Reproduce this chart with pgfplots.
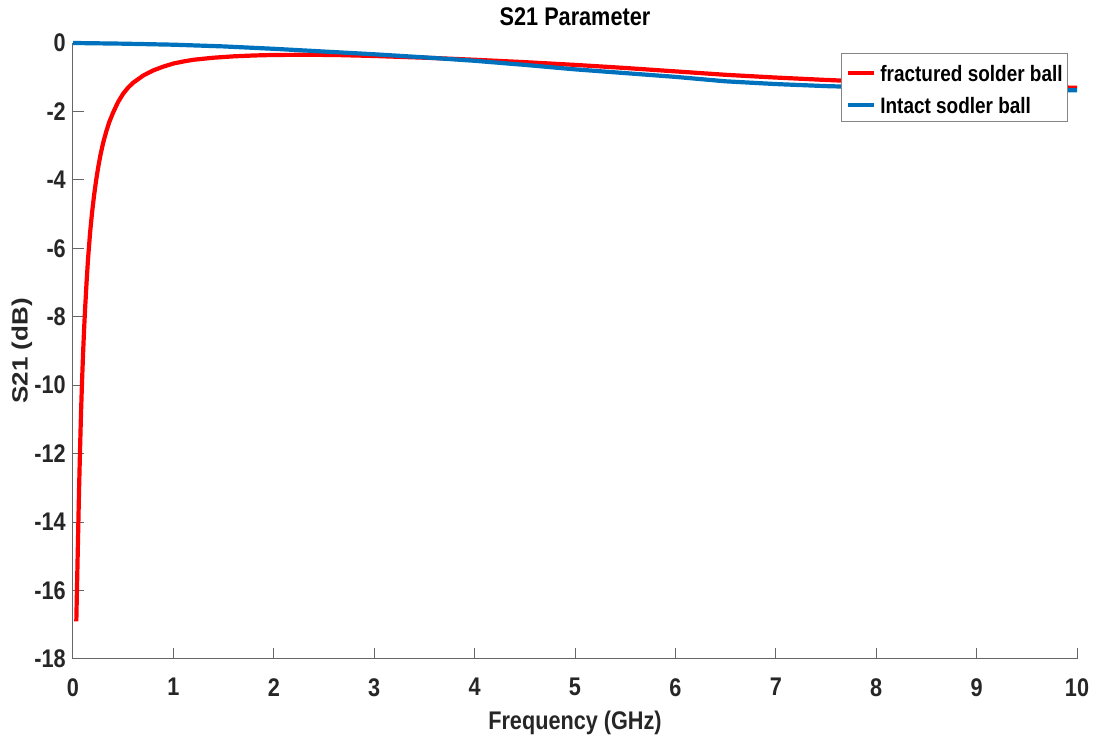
\documentclass[border=0pt]{standalone}
\usepackage{pgfplots}
\pgfplotsset{compat=1.18}
\usepackage{graphicx}
\usepackage{fontspec}
\setmainfont{Liberation Sans}[FakeStretch=0.85]
\newfontfamily\yfont{Liberation Sans}
\definecolor{mred}{rgb}{1,0,0}
\definecolor{mblue}{rgb}{0,0.447,0.741}
\definecolor{axgray}{gray}{0.4}
\definecolor{txt}{gray}{0.15}
\newcommand{\tfont}{\fontsize{25.5}{30}\selectfont\bfseries}

\pgfplotstableread{
f S
0.033 -16.9
0.040 -15.9
0.045 -15.2
0.050 -14.5
0.055 -13.8
0.060 -13.1
0.070 -11.9
0.080 -10.8
0.090 -9.9
0.100 -9.1
0.110 -8.4
0.120 -7.8
0.135 -7.0
0.150 -6.3
0.170 -5.55
0.190 -4.95
0.210 -4.45
0.230 -4.02
0.250 -3.65
0.275 -3.25
0.300 -2.92
0.330 -2.60
0.360 -2.32
0.400 -2.03
0.450 -1.72
0.500 -1.48
0.550 -1.30
0.600 -1.16
0.700 -0.95
0.800 -0.80
0.900 -0.69
1.000 -0.60
1.100 -0.54
1.200 -0.49
1.400 -0.43
1.600 -0.39
1.800 -0.365
2.000 -0.35
2.300 -0.345
2.600 -0.35
3.000 -0.38
3.300 -0.41
3.600 -0.44
4.000 -0.49
4.500 -0.56
5.000 -0.64
5.500 -0.73
6.000 -0.83
6.500 -0.93
7.000 -1.01
7.500 -1.08
8.000 -1.14
8.500 -1.19
9.000 -1.23
9.500 -1.27
10.00 -1.31
}\fractured

\pgfplotstableread{
f S
0.0 0.0
0.5 -0.02
1.0 -0.05
1.5 -0.10
2.0 -0.17
2.5 -0.25
3.0 -0.33
3.5 -0.42
4.0 -0.52
4.5 -0.64
5.0 -0.77
5.5 -0.88
6.0 -0.99
6.5 -1.12
7.0 -1.20
7.5 -1.26
8.0 -1.30
8.5 -1.33
9.0 -1.35
9.5 -1.37
10.0 -1.38
}\intact

\begin{document}
\begin{tikzpicture}
\begin{axis}[
  name=ax,
  scale only axis, width=1004pt, height=616pt,
  xmin=0, xmax=10, ymin=-18, ymax=0,
  clip=false,
  axis x line*=bottom, axis y line*=left,
  axis line style={axgray, line width=1pt},
  xtick={0,1,...,10}, ytick={-18,-16,...,0},
  xticklabels={0,1,2,3,4,5,6,7,8,9,10},
  yticklabels={-18,-16,-14,-12,-10,-8,-6,-4,-2,0},
  tick align=inside, major tick length=11pt,
  tick style={axgray, line width=1pt},
  xticklabel style={font=\tfont, text=txt, anchor=north, inner sep=0pt, yshift=-19pt},
  yticklabel style={font=\tfont, text=txt, anchor=east, inner sep=0pt, xshift=-7pt},
  title={S21 Parameter},
  title style={font=\tfont, text=black, at={(0.5,1)}, anchor=base, inner sep=0pt, yshift=11.5pt},
  xlabel={Frequency (GHz)},
  xlabel style={font=\tfont, text=txt, at={(0.5,0)}, anchor=base, inner sep=0pt, yshift=-70.5pt},
  ylabel={\scalebox{1}[0.85]{\yfont\fontsize{26}{30}\selectfont\bfseries S21 (dB)}},
  every axis y label/.style={at={(axis description cs:0,0.5)}, xshift=-51pt, rotate=90, anchor=center, inner sep=0pt, text=txt},
  legend style={at={(1,1)}, anchor=north east, xshift=-9pt, yshift=-10pt,
    draw=axgray!80, line width=0.8pt, fill=white, inner xsep=5pt, inner ysep=5pt,
    font=\fontsize{22.3}{27}\selectfont\bfseries, row sep=6pt, column sep=4pt,
    nodes={inner sep=0pt, text height=23pt, text depth=3pt, anchor=base west}},
  legend cell align=left,
  legend image code/.code={\draw[#1, line width=4.2pt] (0pt,8pt) -- (26pt,8pt);},
]
\addplot[mred, line width=4.2pt] table[x=f, y=S] {\fractured};
\addlegendentry{fractured solder ball}
\addplot[mblue, line width=4.2pt] table[x=f, y=S] {\intact};
\addlegendentry{Intact sodler ball}
\end{axis}
\pgfresetboundingbox
\path[use as bounding box] ([xshift=-73pt,yshift=-78pt]ax.south west) rectangle ([xshift=17pt,yshift=43pt]ax.north east);
\end{tikzpicture}
\end{document}
